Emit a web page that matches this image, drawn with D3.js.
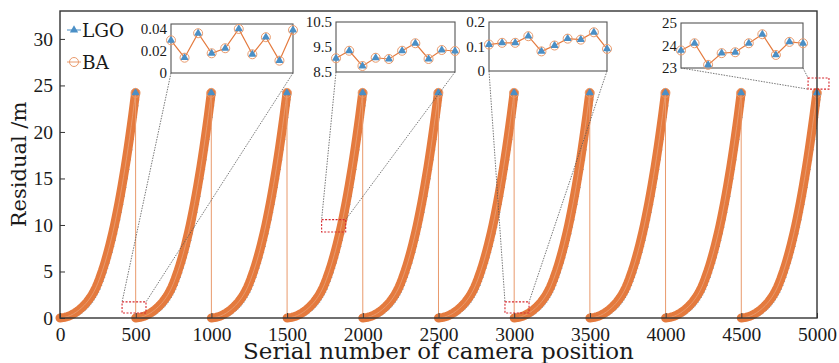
<!DOCTYPE html>
<html>
<head>
<meta charset="utf-8">
<script src="https://cdn.jsdelivr.net/npm/d3@7"></script>
<style>
  body { margin: 0; background: #fff; }
  svg { display: block; }
</style>
</head>
<body>
<div id="chart"></div>
<script>
// ---------- DATA ----------
// each block of 500 camera positions has the same residual growth
const segmentStarts = [0, 500, 1000, 1500, 2000, 2500, 3000, 3500, 4000, 4500];
const profileOffsets = [0, 10, 20, 30, 40, 50, 60, 70, 80, 90, 100, 110, 120, 130, 140, 150,
  160, 170, 180, 190, 200, 210, 220, 230, 240, 250, 260, 270, 280, 290, 300, 310, 320, 330,
  340, 350, 360, 370, 380, 390, 400, 410, 420, 430, 440, 450, 460, 470, 480, 490, 495, 499];
const residualProfile = [0.00, 0.02, 0.04, 0.07, 0.11, 0.16, 0.22, 0.29, 0.37, 0.46, 0.56,
  0.67, 0.79, 0.92, 1.06, 1.21, 1.37, 1.55, 1.74, 1.95, 2.18, 2.43, 2.71, 3.01, 3.35, 3.74,
  4.16, 4.61, 5.08, 5.59, 6.12, 6.69, 7.28, 7.92, 8.58, 9.28, 10.01, 10.78, 11.60, 12.44,
  13.32, 14.24, 15.20, 16.19, 17.23, 18.31, 19.43, 20.59, 21.79, 23.04, 23.68, 24.20];

const xTicks = [0, 500, 1000, 1500, 2000, 2500, 3000, 3500, 4000, 4500, 5000];
const yTicks = [0, 5, 10, 15, 20, 25, 30];

// zoomed details (10 positions each)
const inset1Values = [0.0297, 0.0139, 0.0361, 0.0179, 0.0225, 0.0400, 0.0170, 0.0325, 0.0112, 0.0390];
const inset2Values = [9.05, 9.35, 8.74, 9.07, 9.02, 9.35, 9.65, 9.02, 9.38, 9.34];
const inset3Values = [0.108, 0.115, 0.115, 0.142, 0.080, 0.104, 0.132, 0.128, 0.158, 0.090];
const inset4Values = [23.78, 24.10, 23.14, 23.66, 23.70, 24.10, 24.50, 23.58, 24.16, 24.10];

const inset1Ticks = [0, 0.02, 0.04];
const inset2Ticks = [8.5, 9.5, 10.5];
const inset3Ticks = [0, 0.1, 0.2];
const inset4Ticks = [23, 24, 25];

// red boxes marking the zoomed areas (data coords)
const zoomBoxX = [[410, 568], [1728, 1887], [2939, 3098], [4941, 5079]];
const zoomBoxY = [[0.54, 1.73], [9.24, 10.57], [0.54, 1.73], [24.6, 25.8]];

// ---------- SETTINGS ----------
const width = 839, height = 363;
const margin = { top: 11, right: 22, bottom: 45, left: 60 };
const blue = '#4a8fc6', orange = '#e47a3e', lineOrange = '#e99a6c';
const numFont = "'Liberation Serif', 'Times New Roman', serif";
const lblFont = "'DejaVu Serif', serif";

const svg = d3.select('#chart').append('svg')
  .attr('width', width).attr('height', height);

const x = d3.scaleLinear().domain([0, 5000]).range([margin.left, width - margin.right]);
const y = d3.scaleLinear().domain([0, 33]).range([height - margin.bottom, margin.top]);

// build the series
const series = [];
segmentStarts.forEach((s) => {
  profileOffsets.forEach((o, i) => {
    series.push({ seg: s, pos: s + o, value: residualProfile[i], last: o === 499 });
  });
});
const bySegment = d3.groups(series, (d) => d.seg);

const tri = d3.symbol().type(d3.symbolTriangle).size(30);
const triSmall = d3.symbol().type(d3.symbolTriangle).size(22);

// ---------- MAIN SERIES ----------
const plot = svg.append('g');

// LGO (below)
plot.selectAll('.lgo')
  .data(series)
  .enter()
  .append('path')
  .attr('transform', (d) => `translate(${x(d.pos) + 1},${y(d.value) + 0.5})`)
  .attr('d', triSmall)
  .attr('fill', blue);

// BA - dense markers form a thick band
const line = d3.line().x((d) => x(d.pos)).y((d) => y(d.value));
plot.selectAll('.band')
  .data(bySegment)
  .enter()
  .append('path')
  .attr('d', (g) => line(g[1]))
  .attr('fill', 'none')
  .attr('stroke', orange)
  .attr('stroke-width', 9)
  .attr('stroke-linejoin', 'round')
  .attr('stroke-linecap', 'round');

// BA connecting line (gives the drops)
plot.append('path')
  .attr('d', line(series))
  .attr('fill', 'none')
  .attr('stroke', lineOrange)
  .attr('stroke-width', 1);

// markers at segment ends
const ends = series.filter((d) => d.last);
plot.selectAll('.endTri')
  .data(ends)
  .enter()
  .append('path')
  .attr('transform', (d) => `translate(${x(d.pos)},${y(d.value)})`)
  .attr('d', tri)
  .attr('fill', blue);
plot.selectAll('.endCirc')
  .data(ends)
  .enter()
  .append('circle')
  .attr('cx', (d) => x(d.pos))
  .attr('cy', (d) => y(d.value))
  .attr('r', 4.5)
  .attr('fill', 'none')
  .attr('stroke', lineOrange)
  .attr('stroke-width', 1);

// ---------- AXES ----------
const xAxis = svg.append('g')
  .attr('transform', `translate(0,${height - margin.bottom})`)
  .call(d3.axisBottom(x).tickValues(xTicks).tickFormat(d3.format('d'))
    .tickSizeInner(-5).tickSizeOuter(0).tickPadding(9));
const yAxis = svg.append('g')
  .attr('transform', `translate(${margin.left},0)`)
  .call(d3.axisLeft(y).tickValues(yTicks).tickFormat(d3.format('d'))
    .tickSizeInner(-5).tickSizeOuter(0).tickPadding(7));
[xAxis, yAxis].forEach((a) => {
  a.select('.domain').remove();
  a.selectAll('line').attr('stroke', '#333');
  a.selectAll('text')
    .style('font-family', numFont)
    .style('font-size', '19.5px')
    .attr('fill', '#1a1a1a');
});

svg.append('rect')
  .attr('x', margin.left).attr('y', margin.top)
  .attr('width', width - margin.left - margin.right)
  .attr('height', height - margin.top - margin.bottom)
  .attr('fill', 'none').attr('stroke', '#333').attr('stroke-width', 1.4);

svg.append('text')
  .attr('x', (margin.left + width - margin.right) / 2)
  .attr('y', 359)
  .attr('text-anchor', 'middle')
  .style('font-family', lblFont)
  .style('font-size', '23px')
  .attr('fill', '#1a1a1a')
  .text('Serial number of camera position');

svg.append('text')
  .attr('transform', `translate(26,${(margin.top + height - margin.bottom) / 2}) rotate(-90)`)
  .attr('text-anchor', 'middle')
  .style('font-family', lblFont)
  .style('font-size', '21px')
  .attr('fill', '#1a1a1a')
  .text('Residual /m');

// ---------- LEGEND ----------
const legend = svg.append('g');
[['LGO', 30], ['BA', 62]].forEach(([name, ly], i) => {
  legend.append('line')
    .attr('x1', 67).attr('x2', 81).attr('y1', ly).attr('y2', ly)
    .attr('stroke', i === 0 ? blue : lineOrange).attr('stroke-width', 1);
  if (i === 0) {
    legend.append('path').attr('transform', `translate(74,${ly})`).attr('d', tri).attr('fill', blue);
  } else {
    legend.append('circle').attr('cx', 74).attr('cy', ly).attr('r', 4.5)
      .attr('fill', 'none').attr('stroke', lineOrange).attr('stroke-width', 1);
  }
  legend.append('text')
    .attr('x', 82).attr('y', ly + 6.5)
    .style('font-family', lblFont)
    .style('font-size', '18.5px')
    .attr('fill', '#1a1a1a')
    .text(name);
});

// ---------- ZOOM BOXES + CONNECTORS ----------
const insets = [
  { box: [171, 293, 24, 73], domain: [0, 0.0445], ticks: inset1Ticks, values: inset1Values, fmt: (d) => (d === 0 ? '0' : d.toFixed(2)), link: 'top' },
  { box: [336, 455, 22, 72], domain: [8.5, 10.5], ticks: inset2Ticks, values: inset2Values, fmt: (d) => d.toFixed(1), link: 'top' },
  { box: [489, 607, 22, 71], domain: [0, 0.2], ticks: inset3Ticks, values: inset3Values, fmt: (d) => (d === 0 ? '0' : d.toFixed(1)), link: 'top' },
  { box: [681, 803, 23, 68], domain: [23, 25], ticks: inset4Ticks, values: inset4Values, fmt: (d) => String(d), link: 'left' },
];

insets.forEach((ins, i) => {
  const [bx0, bx1, by0, by1] = ins.box;
  const rx0 = x(zoomBoxX[i][0]), rx1 = x(zoomBoxX[i][1]);
  const ry0 = y(zoomBoxY[i][1]), ry1 = y(zoomBoxY[i][0]);
  const links = ins.link === 'top'
    ? [[bx0, by1, rx0, ry0], [bx1, by1, rx1, ry0]]
    : [[bx0, by1, rx0, ry1], [bx1, by1, rx0, ry0]];
  links.forEach((l) => {
    svg.append('line')
      .attr('x1', l[0]).attr('y1', l[1]).attr('x2', l[2]).attr('y2', l[3])
      .attr('stroke', '#555').attr('stroke-width', 0.8)
      .attr('stroke-dasharray', '1.5,1.2');
  });
  svg.append('rect')
    .attr('x', rx0).attr('y', ry0)
    .attr('width', rx1 - rx0).attr('height', ry1 - ry0)
    .attr('fill', 'none')
    .attr('stroke', '#d6282e').attr('stroke-width', 1.1)
    .attr('stroke-dasharray', '2,1.5');
});

// ---------- INSETS ----------
insets.forEach((ins) => {
  const [bx0, bx1, by0, by1] = ins.box;
  const ix = d3.scaleLinear().domain([0, ins.values.length - 1]).range([bx0, bx1]);
  const iy = d3.scaleLinear().domain(ins.domain).range([by1, by0]);
  const g = svg.append('g');

  g.append('rect')
    .attr('x', bx0).attr('y', by0)
    .attr('width', bx1 - bx0).attr('height', by1 - by0)
    .attr('fill', '#fff').attr('stroke', '#555').attr('stroke-width', 1.1);

  const ax = g.append('g')
    .attr('transform', `translate(${bx0},0)`)
    .call(d3.axisLeft(iy).tickValues(ins.ticks).tickFormat(ins.fmt).tickSize(0).tickPadding(4));
  ax.select('.domain').remove();
  ax.selectAll('text')
    .style('font-family', numFont)
    .style('font-size', '15px')
    .attr('fill', '#1a1a1a');

  const iline = d3.line().x((d, k) => ix(k)).y((d) => iy(d));
  g.append('path')
    .attr('d', iline(ins.values))
    .attr('fill', 'none').attr('stroke', orange).attr('stroke-width', 1.2);

  g.selectAll('.t')
    .data(ins.values)
    .enter()
    .append('path')
    .attr('transform', (d, k) => `translate(${ix(k)},${iy(d)})`)
    .attr('d', tri)
    .attr('fill', blue);

  g.selectAll('.c')
    .data(ins.values)
    .enter()
    .append('circle')
    .attr('cx', (d, k) => ix(k))
    .attr('cy', (d) => iy(d))
    .attr('r', 4.5)
    .attr('fill', 'none')
    .attr('stroke', lineOrange).attr('stroke-width', 1);
});
</script>
</body>
</html>
